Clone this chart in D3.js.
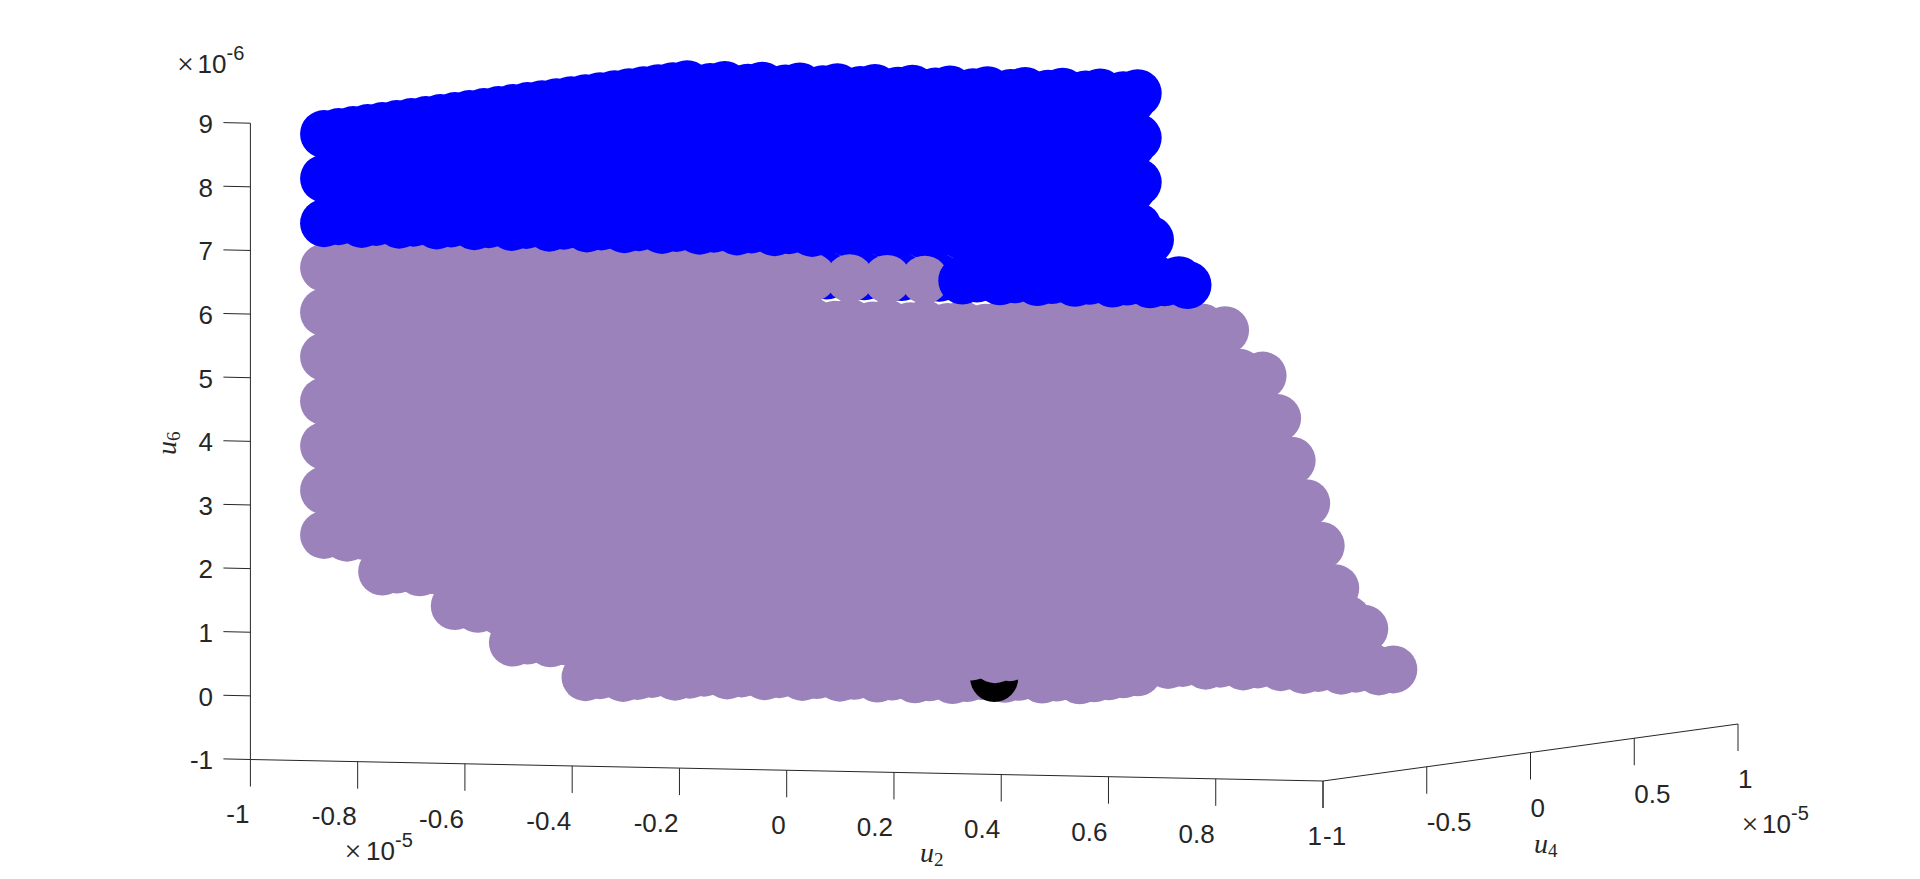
<!DOCTYPE html>
<html><head><meta charset="utf-8">
<script src="https://cdn.jsdelivr.net/npm/d3@7/dist/d3.min.js"></script>
<style>html,body{margin:0;padding:0;background:#fff;overflow:hidden}svg{display:block}</style>
</head><body><div id="chart"></div>
<script>
// Values. u2, u4 in units of 1e-5, u6 in units of 1e-6.
const u2Ticks = [-1,-0.8,-0.6,-0.4,-0.2,0,0.2,0.4,0.6,0.8,1];
const u4Ticks = [-1,-0.5,0,0.5,1];
const u6Ticks = [-1,0,1,2,3,4,5,6,7,8,9];
const u2Grid = [-0.94,-0.87,-0.80,-0.73,-0.66,-0.59,-0.52,-0.45,-0.38,-0.31,-0.24,-0.17,-0.10,-0.03,0.04,0.11,0.18,0.25,0.32,0.39,0.46,0.53,0.60,0.67,0.74,0.81];
const u4Grid = [-0.87,-0.80,-0.73,-0.66,-0.59,-0.52,-0.45,-0.38,-0.31,-0.24,-0.17,-0.10,-0.03,0.04,0.11,0.18,0.25,0.32,0.39,0.46,0.53,0.60,0.67,0.74,0.81,0.88,0.95];
const u6Levels = [-0.35,0.35,1.05,1.75,2.45,3.15,3.85,4.55,5.25,5.95,6.65,7.35,8.05,8.75];
const originPoint = [[0,0,0]];
// Rows of the sampled sets: [u6 level index, u4 row (u4Grid[row+1]), first u2 index, last u2 index]
const blueBehindRows = [[10,1,13,16]];
const purpleBottomRows = [[0,18,0,1],[0,19,0,2],[0,20,0,9],[0,21,1,12],[0,22,2,12],[0,23,9,12],[0,24,12,12],[0,25,12,12]];
const purpleRows = [
 [1,13,0,13],[1,14,0,12],[1,15,0,12],[1,11,13,23],[1,10,13,24],[1,9,16,25],[1,8,23,25],
 [2,6,20,25],[2,7,2,25],[2,8,1,24],[2,9,0,23],[2,10,0,23],[2,11,0,23],
 [3,4,0,25],[3,5,0,25],[3,6,0,23],
 [4,-1,1,10],[4,0,0,24],[4,1,0,24],[4,2,0,24],[4,3,2,25],[4,4,2,25],
 [5,0,0,25],[5,1,0,25],[5,2,0,25],[5,3,0,25],
 [6,0,0,25],[6,1,0,25],[6,2,0,25],
 [7,0,0,25],[7,1,0,25],[7,2,0,24],
 [8,0,0,25],[8,1,0,24],[8,2,0,23],
 [9,0,0,24],[9,-1,12,18],[9,1,0,12],[9,2,0,12],[9,1,18,23],[9,2,18,22],
 [10,-1,10,13],[10,0,0,13],[10,1,0,12],[10,2,0,12]
];
const blueRows = [
 [13,0,0,20],[13,1,0,20],[13,2,0,20],[13,3,0,0],[13,4,0,0],[13,5,0,0],[13,6,0,0],[13,7,0,0],[13,8,0,18],
 [13,9,0,0],[13,10,0,0],[13,11,0,0],[13,12,0,0],[13,13,0,0],[13,14,0,0],[13,15,0,15],[13,16,0,0],[13,17,0,0],
 [13,18,0,0],[13,19,0,0],[13,20,0,13],[13,21,0,0],[13,22,0,13],[13,23,0,12],[13,24,0,12],[13,25,0,12],
 [12,0,0,20],[12,1,0,20],[12,2,0,20],[12,8,0,18],[12,15,0,15],[12,22,0,13],[12,23,0,12],[12,24,0,12],[12,25,0,12],
 [11,0,0,22],[11,1,0,20],[11,2,0,20],[11,8,0,18],[11,15,0,15],[11,22,0,13],[11,23,0,12],[11,24,0,12],[11,25,0,12],
 [10,23,8,12],[10,24,8,12],[10,25,8,12]
];
const purpleFrontRows = [[10,0,14,16]];
const blueFrontRows = [[10,5,17,20],[10,4,17,20],[10,2,17,22],[10,1,17,22],[10,0,17,23]];

const purple = "#9b82bb", blue = "#0000ff", black = "#000000", ink = "#262626";
const markerRadius = 24;

// Orthographic view of the 3-D axes, one scale per screen direction.
const origin = {x:250.4, y:759.5};
const xFromU2 = d3.scaleLinear().domain([-1,1]).range([0,1072.6]);
const yFromU2 = d3.scaleLinear().domain([-1,1]).range([0,21.5]);
const xFromU4 = d3.scaleLinear().domain([-1,1]).range([0,415]);
const yFromU4 = d3.scaleLinear().domain([-1,1]).range([0,-57]);
const yFromU6 = d3.scaleLinear().domain([-1,9]).range([0,-636.3]);
const px = (a,b) => origin.x + xFromU2(a) + xFromU4(b);
const py = (a,b,c) => origin.y + yFromU2(a) + yFromU4(b) + yFromU6(c);

const svg = d3.select("#chart").append("svg").attr("width",1920).attr("height",879);

const expand = rows => rows.flatMap(([k,j,from,to]) =>
  u2Grid.slice(from,to+1).map(a => [a,u4Grid[j+1],u6Levels[k]]));

function drawPoints(points,color,name){
  svg.append("g").attr("class",name).attr("fill",color)
    .selectAll("circle").data(points).join("circle")
    .attr("cx",d=>px(d[0],d[1])).attr("cy",d=>py(d[0],d[1],d[2])).attr("r",markerRadius);
}
drawPoints(expand(blueBehindRows),blue,"blue-behind");
drawPoints(expand(purpleBottomRows),purple,"purple-bottom");
drawPoints(originPoint,black,"origin");
drawPoints(expand(purpleRows),purple,"purple");
drawPoints(expand(blueRows),blue,"blue");
drawPoints(expand(purpleFrontRows),purple,"purple-front");
drawPoints(expand(blueFrontRows),blue,"blue-front");

// Axes
const axes = svg.append("g").attr("stroke",ink).attr("stroke-width",1).attr("fill","none");
const seg = (x1,y1,x2,y2)=>axes.append("line").attr("x1",x1).attr("y1",y1).attr("x2",x2).attr("y2",y2);
seg(px(-1,-1),py(-1,-1,-1),px(1,-1),py(1,-1,-1));
seg(px(1,-1),py(1,-1,-1),px(1,1),py(1,1,-1));
seg(px(-1,-1),py(-1,-1,-1),px(-1,-1),py(-1,-1,9));
const tickLen = 27;
axes.append("g").selectAll("line").data(u2Ticks).join("line")
  .attr("x1",d=>px(d,-1)).attr("x2",d=>px(d,-1))
  .attr("y1",d=>py(d,-1,-1)).attr("y2",d=>py(d,-1,-1)+tickLen);
axes.append("g").selectAll("line").data(u4Ticks).join("line")
  .attr("x1",d=>px(1,d)).attr("x2",d=>px(1,d))
  .attr("y1",d=>py(1,d,-1)).attr("y2",d=>py(1,d,-1)+tickLen);
axes.append("g").selectAll("line").data(u6Ticks).join("line")
  .attr("x1",px(-1,-1)).attr("x2",px(-1,-1)-tickLen)
  .attr("y1",d=>py(-1,-1,d)).attr("y2",d=>py(-1,-1,d)-0.6);

// Tick labels
const labels = svg.append("g").attr("fill",ink).style("font-family","'Liberation Sans',Arial,sans-serif").style("font-size","26px");
labels.append("g").attr("text-anchor","end").selectAll("text").data(u2Ticks).join("text")
  .attr("x",d=>px(d,-1)-1).attr("y",d=>py(d,-1,-1)+54.5+9.3).text(d=>d);
labels.append("g").attr("text-anchor","start").selectAll("text").data(u4Ticks).join("text")
  .attr("x",d=>px(1,d)).attr("y",d=>py(1,d,-1)+55+9.3).text(d=>d);
labels.append("g").attr("text-anchor","end").selectAll("text").data(u6Ticks).join("text")
  .attr("x",213).attr("y",d=>py(-1,-1,d)+9.8).text(d=>d);

// Exponent markers
function exponent(xTimes,xBase,baseline,exp){
  const g = svg.append("g").attr("fill",ink).style("font-family","'Liberation Sans',Arial,sans-serif");
  g.append("text").attr("x",xTimes).attr("y",baseline+1).attr("text-anchor","middle").style("font-size","30px").style("font-family","'Liberation Serif',serif").text("\u00d7");
  g.append("text").attr("x",xBase).attr("y",baseline).style("font-size","26px").text("10");
  g.append("text").attr("x",xBase+29).attr("y",baseline-13).style("font-size","20px").text(exp);
}
exponent(185.5,197.5,73,"-6");
exponent(353,366,860,"-5");
exponent(1750,1762,833,"-5");

// Axis titles
function title(x,y,sub,rot){
  const t = svg.append("text").attr("transform",`translate(${x},${y}) rotate(${rot})`)
    .attr("fill",ink).style("font-family","'Liberation Serif',serif").style("font-size","28px");
  t.append("tspan").style("font-style","italic").text("u");
  t.append("tspan").attr("dy",4).style("font-size","19px").text(sub);
}
title(920,862,"2",0);
title(1534,853,"4",0);
title(176,455,"6",-90);
</script></body></html>
